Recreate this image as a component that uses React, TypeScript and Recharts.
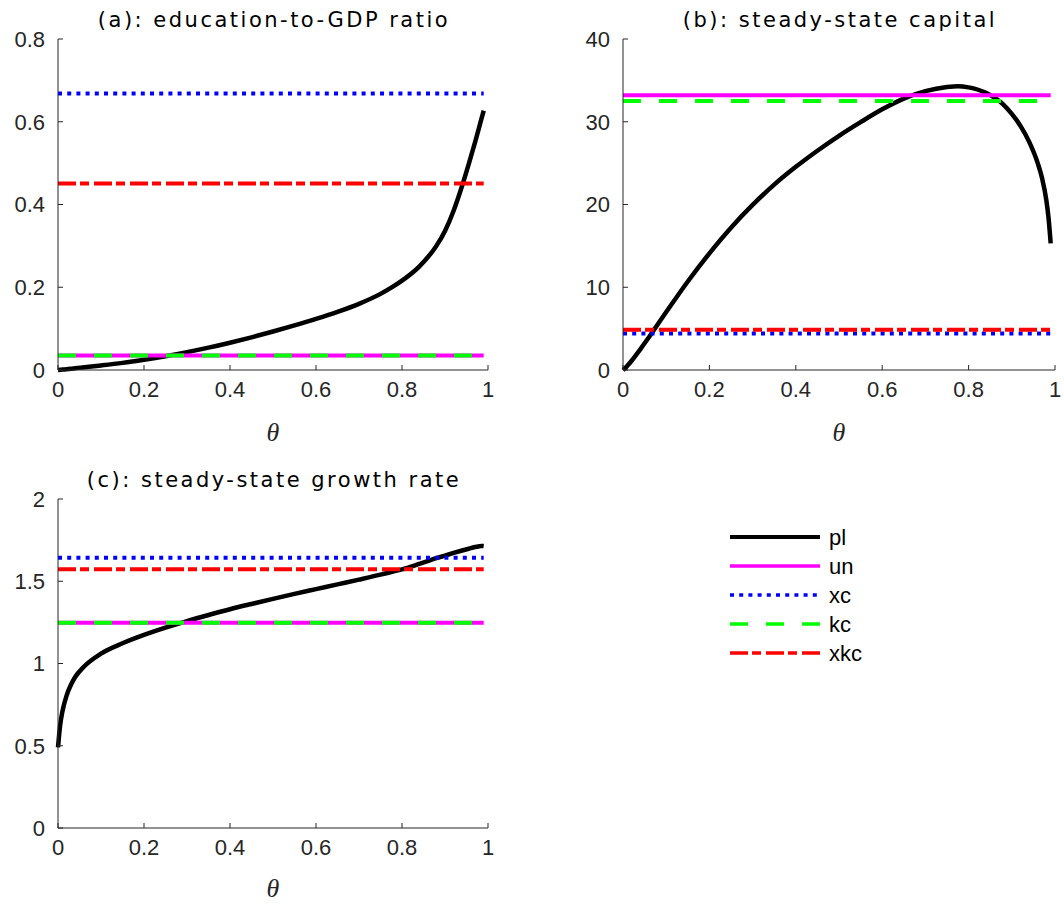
import React from 'react';
import { LineChart, Line, XAxis, YAxis, Legend } from 'recharts';

// θ grid (shared by all panels)
const THETA = [0, 0.005, 0.01, 0.02, 0.03, 0.04, 0.06, 0.1, 0.15, 0.2, 0.25, 0.3, 0.35, 0.4, 0.45, 0.5, 0.55, 0.6, 0.65, 0.7, 0.75, 0.775, 0.8, 0.84, 0.88, 0.9, 0.92, 0.94, 0.96, 0.97, 0.98, 0.985, 0.99];

// planner ("pl") curves
const PL_A = [0, 0.0005, 0.001, 0.002, 0.003, 0.0043, 0.0065, 0.011, 0.0172, 0.0248, 0.0334, 0.0432, 0.054, 0.066, 0.079, 0.093, 0.1078, 0.1235, 0.1405, 0.16, 0.184, 0.199, 0.216, 0.25, 0.3, 0.336, 0.385, 0.446, 0.515, 0.551, 0.589, 0.608, 0.627];
const PL_B = [0, 0.22, 0.5, 1.12, 1.8, 2.5, 3.96, 7.0, 10.7, 14.1, 17.2, 19.95, 22.4, 24.55, 26.5, 28.3, 29.95, 31.5, 32.8, 33.7, 34.2, 34.3, 34.15, 33.5, 32.1, 30.95, 29.5, 27.6, 25.0, 23.2, 20.5, 18.4, 15.3];
const PL_C = [0.49, 0.625, 0.705, 0.805, 0.87, 0.918, 0.98, 1.06, 1.123, 1.174, 1.218, 1.258, 1.295, 1.33, 1.362, 1.393, 1.423, 1.452, 1.481, 1.51, 1.54, 1.556, 1.572, 1.605, 1.64, 1.656, 1.672, 1.687, 1.701, 1.708, 1.713, 1.715, 1.714];

// constant benchmarks per panel [a, b, c]
const UN = [0.035, 33.2, 1.248];
const XC = [0.668, 4.4, 1.643];
const KC = [0.035, 32.5, 1.248];
const XKC = [0.451, 4.85, 1.573];

const TITLES = ['(a): education-to-GDP ratio', '(b): steady-state capital', '(c): steady-state growth rate'];
const X_TICKS = [0, 0.2, 0.4, 0.6, 0.8, 1];
const Y_TICKS_A = [0, 0.2, 0.4, 0.6, 0.8];
const Y_TICKS_B = [0, 10, 20, 30, 40];
const Y_TICKS_C = [0, 0.5, 1, 1.5, 2];

const SERIES = [
  { key: 'pl', color: '#000000', dash: undefined as string | undefined, width: 4.5 },
  { key: 'un', color: '#ff00ff', dash: undefined as string | undefined, width: 4 },
  { key: 'xc', color: '#0000ff', dash: '4 5.2', width: 4 },
  { key: 'kc', color: '#00ff00', dash: '18 18', width: 4 },
  { key: 'xkc', color: '#ff0000', dash: '18 4 9 5', width: 4 },
];

const PL = [PL_A, PL_B, PL_C];
const buildData = (i: number) =>
  THETA.map((t, j) => ({ theta: t, pl: PL[i][j], un: UN[i], xc: XC[i], kc: KC[i], xkc: XKC[i] }));

const AX = '#262626';
const FONT = '"Liberation Sans", Arial, sans-serif';
const TITLE_FONT = '"DejaVu Sans", sans-serif';
const tickStyle = { fill: AX, fontSize: 22, fontFamily: FONT };
const fmt = (v: number) => String(v);

const LegendContent = () => (
  <svg width={200} height={150}>
    {SERIES.map((s, i) => {
      const y = 17 + i * 29;
      return (
        <g key={s.key}>
          <line x1={10} x2={100} y1={y} y2={y} stroke={s.color} strokeWidth={s.key === 'pl' ? 4 : 3.5} strokeDasharray={s.dash} />
          <text x={109} y={y + 8} fontSize={22} fontFamily={FONT} fill="#000">{s.key}</text>
        </g>
      );
    })}
  </svg>
);

type PanelProps = {
  idx: number;
  width: number;
  height: number;
  yWidth: number;
  xHeight: number;
  right: number;
  yTicks: number[];
  thetaOffset: number;
  legend?: boolean;
};

const Panel = ({ idx, width, height, yWidth, xHeight, right, yTicks, thetaOffset, legend }: PanelProps) => {
  const data = buildData(idx);
  const dom: [number, number] = [yTicks[0], yTicks[yTicks.length - 1]];
  return (
    <LineChart width={width} height={height} data={data} margin={{ top: 39, right, bottom: 0, left: 0 }}>
      <XAxis
        dataKey="theta"
        type="number"
        domain={[0, 1]}
        ticks={X_TICKS}
        interval={0}
        height={xHeight}
        tickSize={-5}
        tickMargin={16}
        stroke={AX}
        tick={tickStyle}
        tickFormatter={fmt}
        label={{ value: 'θ', position: 'insideBottom', offset: thetaOffset, fontSize: 26, fontFamily: '"Liberation Serif", "DejaVu Serif", serif', fontStyle: 'italic', fill: AX }}
      />
      <XAxis xAxisId="top" orientation="top" dataKey="theta" type="number" domain={[0, 1]} ticks={X_TICKS} interval={0} height={0} tickSize={-5} stroke={AX} tick={false} />
      <YAxis
        type="number"
        domain={dom}
        ticks={yTicks}
        interval={0}
        width={yWidth}
        tickSize={-5}
        tickMargin={18}
        stroke={AX}
        tick={tickStyle}
        tickFormatter={fmt}
      />
      <YAxis yAxisId="right" orientation="right" type="number" domain={dom} ticks={yTicks} interval={0} width={0} tickSize={-5} stroke={AX} tick={false} />
      {SERIES.map((s) => (
        <Line
          key={s.key}
          dataKey={s.key}
          type={s.key === 'pl' ? 'monotone' : 'linear'}
          stroke={s.color}
          strokeWidth={s.width}
          strokeDasharray={s.dash}
          dot={false}
          activeDot={false}
          isAnimationActive={false}
        />
      ))}
      {legend && (
        <Legend
          layout="vertical"
          align="center"
          verticalAlign="middle"
          content={<LegendContent />}
          wrapperStyle={{ position: 'absolute', left: 720, top: 60, width: 200, height: 150 }}
        />
      )}
    </LineChart>
  );
};

export default function App() {
  return (
    <div style={{ position: 'absolute', left: 0, top: 0, width: 1064, height: 904, background: '#fff', overflow: 'hidden' }}>
      <div style={{ position: 'absolute', left: 0, top: 0 }}>
        <Panel idx={0} width={500} height={450} yWidth={58} xHeight={80} right={12} yTicks={Y_TICKS_A} thetaOffset={9} />
      </div>
      <div style={{ position: 'absolute', left: 540, top: 0 }}>
        <Panel idx={1} width={524} height={450} yWidth={83} xHeight={80} right={9} yTicks={Y_TICKS_B} thetaOffset={9} />
      </div>
      <div style={{ position: 'absolute', left: 0, top: 460 }}>
        <Panel idx={2} width={1064} height={444} yWidth={58} xHeight={76} right={576} yTicks={Y_TICKS_C} thetaOffset={7} legend />
      </div>
      <svg width={1064} height={904} style={{ position: 'absolute', left: 0, top: 0, pointerEvents: 'none' }}>
        <text x={274} y={27} textAnchor="middle" fontSize={21} letterSpacing={2.5} fontFamily={TITLE_FONT} fill="#000">{TITLES[0]}</text>
        <text x={840} y={27} textAnchor="middle" fontSize={21} letterSpacing={2.5} fontFamily={TITLE_FONT} fill="#000">{TITLES[1]}</text>
        <text x={274} y={487} textAnchor="middle" fontSize={21} letterSpacing={2.5} fontFamily={TITLE_FONT} fill="#000">{TITLES[2]}</text>
      </svg>
    </div>
  );
}
